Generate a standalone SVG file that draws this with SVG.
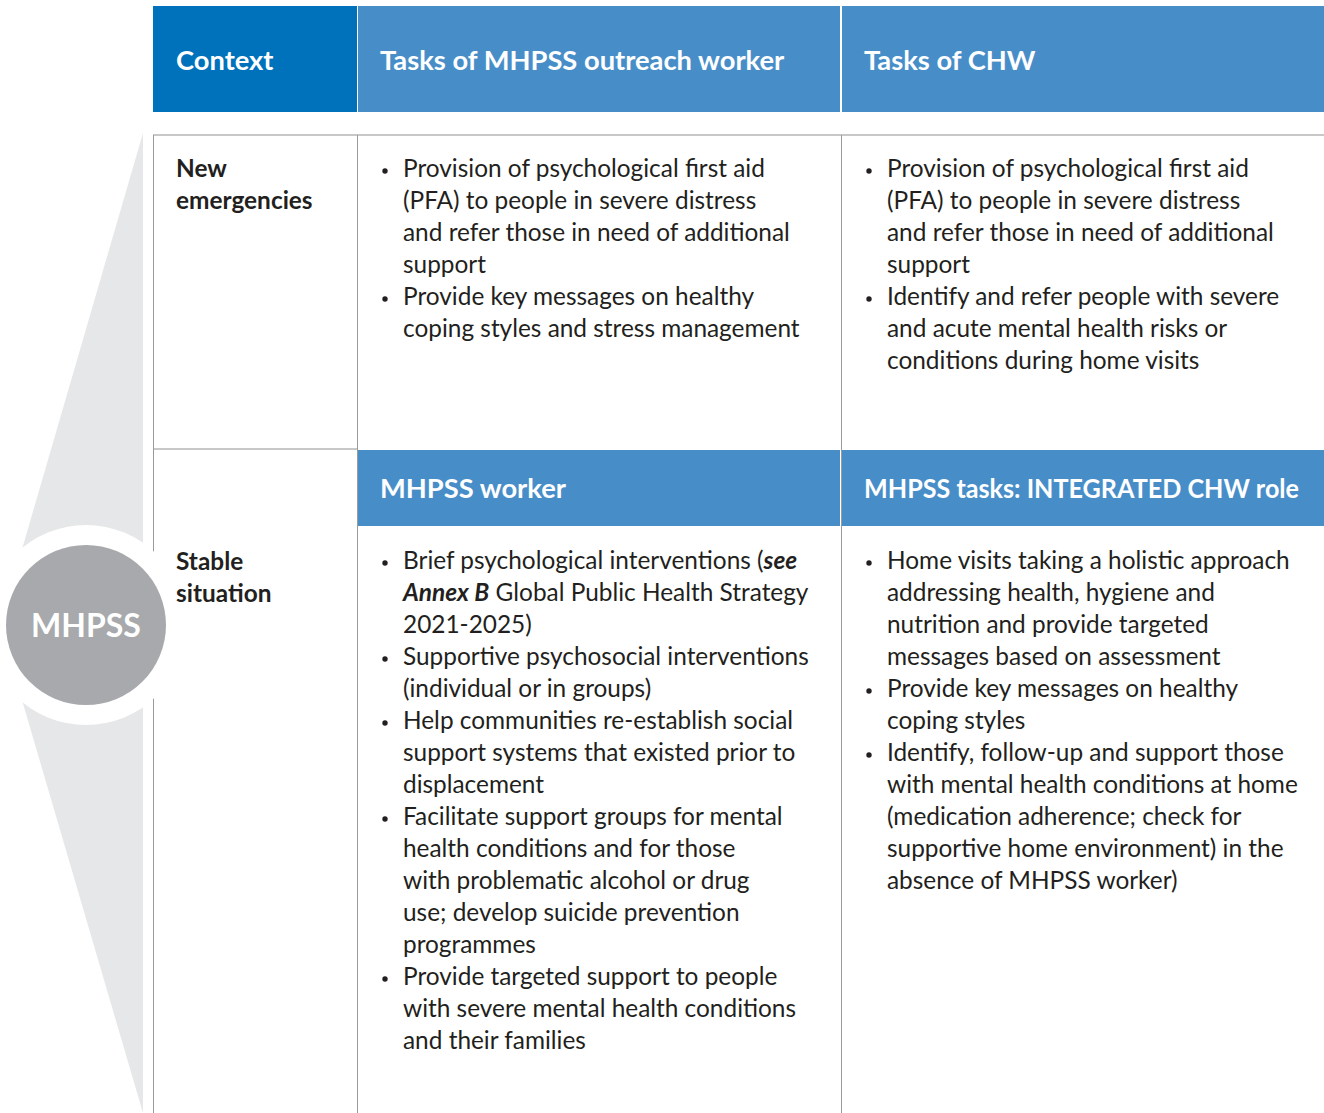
<svg xmlns="http://www.w3.org/2000/svg" width="1324" height="1113" viewBox="0 0 1324 1113">
<style>
.hd{fill:#ffffff;font-family:Lato,"Open Sans",sans-serif;font-weight:bold;font-size:27.3px}
.ctx{fill:#231f20;font-family:Lato,"Open Sans",sans-serif;font-weight:bold;font-size:24.4px}
.bd{fill:#231f20;font-family:Lato,"Open Sans",sans-serif;font-size:24.4px}
.hl{stroke:#c8c8c8;stroke-width:2}
.vl{stroke:#9a9a9a;stroke-width:1}
.blt{fill:#231f20}
</style>
<rect width="1324" height="1113" fill="#ffffff"/>
<g id="mhpss-shape">
<polygon points="143,133 143,1113 0,625" fill="#e6e7e8"/>
</g>
<g id="grid">
<line class="hl" x1="153" y1="135" x2="1324" y2="135"/>
<line class="hl" x1="153" y1="449" x2="358" y2="449"/>
<line class="vl" x1="153.5" y1="135" x2="153.5" y2="1113"/>
<line class="vl" x1="357.5" y1="135" x2="357.5" y2="1113"/>
<line class="vl" x1="841.5" y1="135" x2="841.5" y2="1113"/>
</g>
<g id="mhpss-node">
<circle cx="86" cy="625" r="100" fill="#ffffff"/>
<circle cx="86" cy="625" r="80" fill="#a7a9ac"/>
<text x="86" y="637" text-anchor="middle" style="fill:#ffffff;font-family:Lato,'Open Sans',sans-serif;font-weight:bold;font-size:32px">MHPSS</text>
</g>
<g id="header-context">
<rect x="153" y="6" width="204" height="106" fill="#0071bb"/>
<text class="hd" x="176" y="70">Context</text>
</g>
<g id="header-outreach">
<rect x="358" y="6" width="482" height="106" fill="#478ec9"/>
<text class="hd" x="380" y="70">Tasks of MHPSS outreach worker</text>
</g>
<g id="header-chw">
<rect x="842" y="6" width="482" height="106" fill="#478ec9"/>
<text class="hd" x="864" y="70">Tasks of CHW</text>
</g>
<g id="ctx-new">
<text class="ctx" x="176" y="177">New</text>
<text class="ctx" x="176" y="209">emergencies</text>
</g>
<g id="new-outreach">
<circle class="blt" cx="385" cy="171" r="2.7"/>
<text class="bd" x="403" y="177">Provision of psychological first aid</text>
<text class="bd" x="403" y="209">(PFA) to people in severe distress</text>
<text class="bd" x="403" y="241">and refer those in need of additional</text>
<text class="bd" x="403" y="273">support</text>
<circle class="blt" cx="385" cy="299" r="2.7"/>
<text class="bd" x="403" y="305">Provide key messages on healthy</text>
<text class="bd" x="403" y="337">coping styles and stress management</text>
</g>
<g id="new-chw">
<circle class="blt" cx="869" cy="171" r="2.7"/>
<text class="bd" x="887" y="177">Provision of psychological first aid</text>
<text class="bd" x="887" y="209">(PFA) to people in severe distress</text>
<text class="bd" x="887" y="241">and refer those in need of additional</text>
<text class="bd" x="887" y="273">support</text>
<circle class="blt" cx="869" cy="299" r="2.7"/>
<text class="bd" x="887" y="305">Identify and refer people with severe</text>
<text class="bd" x="887" y="337">and acute mental health risks or</text>
<text class="bd" x="887" y="369">conditions during home visits</text>
</g>
<g id="header-mhpss-worker">
<rect x="358" y="450" width="482" height="76" fill="#478ec9"/>
<text class="hd" x="380" y="498">MHPSS worker</text>
</g>
<g id="header-integrated">
<rect x="842" y="450" width="482" height="76" fill="#478ec9"/>
<text class="hd" x="864" y="498" textLength="435" lengthAdjust="spacingAndGlyphs">MHPSS tasks: INTEGRATED CHW role</text>
</g>
<g id="ctx-stable">
<text class="ctx" x="176" y="570">Stable</text>
<text class="ctx" x="176" y="602">situation</text>
</g>
<g id="stable-worker">
<circle class="blt" cx="385" cy="563" r="2.7"/>
<text class="bd" x="403" y="569">Brief psychological interventions (<tspan font-weight="bold" font-style="italic">see</tspan></text>
<text class="bd" x="403" y="601"><tspan font-weight="bold" font-style="italic">Annex B</tspan> Global Public Health Strategy</text>
<text class="bd" x="403" y="633">2021-2025)</text>
<circle class="blt" cx="385" cy="659" r="2.7"/>
<text class="bd" x="403" y="665">Supportive psychosocial interventions</text>
<text class="bd" x="403" y="697">(individual or in groups)</text>
<circle class="blt" cx="385" cy="723" r="2.7"/>
<text class="bd" x="403" y="729">Help communities re-establish social</text>
<text class="bd" x="403" y="761">support systems that existed prior to</text>
<text class="bd" x="403" y="793">displacement</text>
<circle class="blt" cx="385" cy="819" r="2.7"/>
<text class="bd" x="403" y="825">Facilitate support groups for mental</text>
<text class="bd" x="403" y="857">health conditions and for those</text>
<text class="bd" x="403" y="889">with problematic alcohol or drug</text>
<text class="bd" x="403" y="921">use; develop suicide prevention</text>
<text class="bd" x="403" y="953">programmes</text>
<circle class="blt" cx="385" cy="979" r="2.7"/>
<text class="bd" x="403" y="985">Provide targeted support to people</text>
<text class="bd" x="403" y="1017">with severe mental health conditions</text>
<text class="bd" x="403" y="1049">and their families</text>
</g>
<g id="stable-chw">
<circle class="blt" cx="869" cy="563" r="2.7"/>
<text class="bd" x="887" y="569">Home visits taking a holistic approach</text>
<text class="bd" x="887" y="601">addressing health, hygiene and</text>
<text class="bd" x="887" y="633">nutrition and provide targeted</text>
<text class="bd" x="887" y="665">messages based on assessment</text>
<circle class="blt" cx="869" cy="691" r="2.7"/>
<text class="bd" x="887" y="697">Provide key messages on healthy</text>
<text class="bd" x="887" y="729">coping styles</text>
<circle class="blt" cx="869" cy="755" r="2.7"/>
<text class="bd" x="887" y="761">Identify, follow-up and support those</text>
<text class="bd" x="887" y="793">with mental health conditions at home</text>
<text class="bd" x="887" y="825">(medication adherence; check for</text>
<text class="bd" x="887" y="857">supportive home environment) in the</text>
<text class="bd" x="887" y="889">absence of MHPSS worker)</text>
</g>
</svg>
